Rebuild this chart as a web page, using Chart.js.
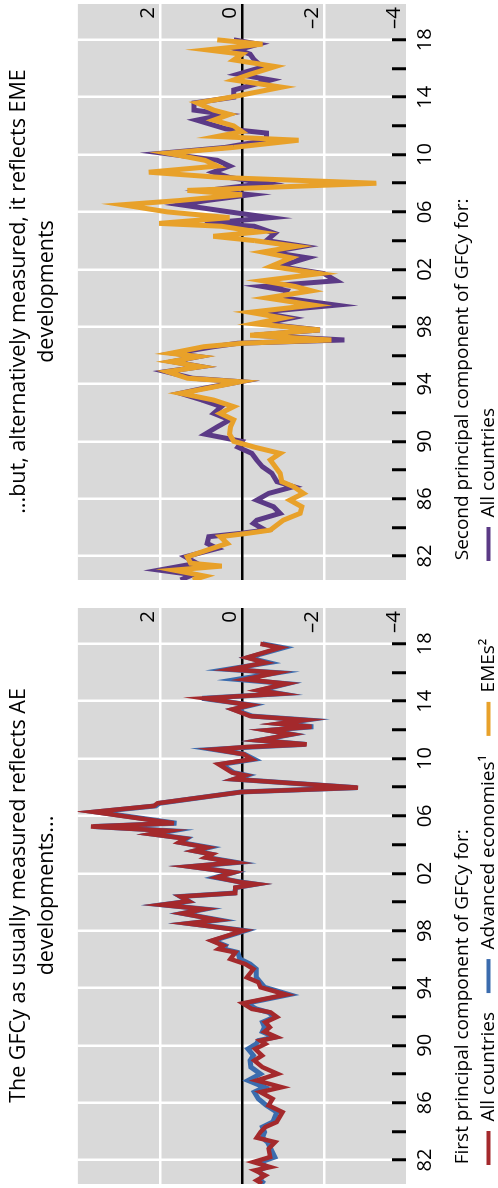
<!DOCTYPE html>
<html>
<head>
<meta charset="utf-8">
<script src="https://cdn.jsdelivr.net/npm/chart.js@4"></script>
<style>
html, body { margin: 0; padding: 0; background: #fff; overflow: hidden; width: 498px; height: 1188px; }
#wrap { position: absolute; left: 0; top: 1188px; width: 1188px; height: 498px; transform-origin: 0 0; transform: rotate(-90deg); overflow: hidden; background: #fff; }
#wrap canvas { position: absolute; top: 0; }
</style>
</head>
<body>
<div id="wrap">
  <canvas id="c1" width="604" height="498" style="left:-10px"></canvas>
  <canvas id="c2" width="604" height="498" style="left:594px"></canvas>
</div>
<script>
// first principal component, all countries and AEs (same dates)
var p1Years = [1980.35, 1980.58, 1980.93, 1981.28, 1981.51, 1981.86, 1982.21, 1982.79, 1983.25, 1983.56,
  1983.95, 1984.30, 1984.65, 1985.34, 1985.81, 1986.27, 1986.74, 1987.08, 1987.55, 1988.01,
  1988.48, 1988.94, 1989.29, 1989.75, 1990.10, 1990.33, 1990.57, 1990.95, 1991.26, 1991.61,
  1991.98, 1992.30, 1992.54, 1992.93, 1993.54, 1994.05, 1994.40, 1994.74, 1995.32, 1995.67,
  1996.02, 1996.48, 1996.72, 1996.95, 1997.30, 1998.00, 1998.50, 1998.74, 1999.20, 1999.50,
  1999.80, 2000.05, 2000.38, 2000.62, 2001.00, 2001.24, 2001.40, 2001.71, 2002.06, 2002.47,
  2002.75, 2003.10, 2003.33, 2003.56, 2003.80, 2004.15, 2004.42, 2004.73, 2004.96, 2005.26,
  2005.49, 2006.28, 2006.70, 2006.88, 2007.67, 2007.97, 2008.56, 2008.83, 2009.02, 2009.60,
  2009.95, 2010.30, 2010.64, 2010.80, 2010.99, 2011.27, 2011.69, 2011.97, 2012.22, 2012.43,
  2012.69, 2012.96, 2013.43, 2013.73, 2014.20, 2014.52, 2014.76, 2015.22, 2015.52, 2015.99,
  2016.22, 2016.69, 2017.04, 2017.73, 2018.00];
var p1All = [-0.49, -0.36, -0.57, -0.32, -0.69, -0.28, -0.69, -0.65, -0.81, -0.36,
  -0.45, -0.57, -0.85, -0.99, -0.65, -0.75, -0.45, -0.97, -0.36, -0.87,
  -0.50, -0.30, -0.49, -0.32, -0.57, -0.45, -0.85, -0.55, -0.68, -0.57,
  -0.85, -0.70, -0.24, -0.02, -1.08, -0.45, -0.40, -0.12, -0.28, -0.08,
  0.28, 0.16, 0.57, 0.45, 0.74, -0.04, 1.33, 0.60, 1.46, 0.93,
  1.96, 1.30, 1.50, 0.16, 0.16, -0.36, 0.08, 0.61, 0.20, 1.29,
  0.16, 0.89, 0.73, 1.17, 0.85, 1.54, 1.38, 2.22, 1.78, 3.68,
  1.66, 3.62, 2.14, 2.06, 0.00, -2.83, 0.20, -0.08, 0.24, 0.57,
  -0.24, -0.04, 0.65, -0.08, -1.58, -0.40, -1.21, -0.61, -1.70, -0.89,
  -1.54, -0.20, 0.23, -0.20, 0.91, -0.93, -0.40, -1.09, -0.08, -0.85,
  0.28, -0.57, -0.12, -0.93, -0.45];
var p1AE = [-0.55, -0.45, -0.50, -0.40, -0.60, -0.45, -0.80, -0.70, -0.62, -0.50,
  -0.55, -0.50, -0.75, -0.85, -0.60, -0.40, -0.30, -0.55, -0.15, -0.45,
  -0.22, -0.20, -0.28, -0.15, -0.35, -0.40, -0.80, -0.50, -0.55, -0.50,
  -0.80, -0.65, -0.35, -0.10, -1.15, -0.55, -0.45, -0.35, -0.35, -0.20,
  0.05, 0.10, 0.45, 0.40, 0.70, -0.08, 1.30, 0.55, 1.45, 0.90,
  1.95, 1.30, 1.50, 0.18, 0.15, -0.35, 0.05, 0.65, 0.20, 1.25,
  0.12, 0.85, 0.75, 1.15, 0.80, 1.50, 1.35, 2.17, 1.70, 3.62,
  1.60, 3.55, 2.10, 2.02, 0.02, -2.80, 0.18, -0.12, 0.20, 0.50,
  -0.30, -0.06, 0.70, -0.22, -1.55, -0.42, -1.22, -0.65, -1.74, -0.95,
  -1.58, -0.25, 0.20, -0.24, 0.97, -0.95, -0.45, -1.10, 0.12, -0.88,
  0.36, -0.65, -0.15, -1.01, -0.50];

// second principal component, all countries
var p2AllYears = [1980.33, 1980.70, 1981.02, 1981.50, 1981.95, 1982.53, 1982.88, 1983.35, 1983.58, 1983.81,
  1984.28, 1984.50, 1984.98, 1985.44, 1985.90, 1986.37, 1986.84, 1987.19, 1987.77, 1988.23,
  1988.70, 1989.16, 1989.60, 1990.00, 1990.50, 1991.00, 1991.50, 1991.95, 1992.42, 1992.88,
  1993.35, 1993.70, 1994.16, 1994.40, 1994.86, 1995.21, 1995.56, 1995.91, 1996.14, 1996.60,
  1996.84, 1997.07, 1997.40, 1997.77, 1998.20, 1998.60, 1999.00, 1999.50, 2000.00, 2000.50,
  2000.80, 2001.20, 2001.70, 2002.20, 2002.80, 2003.20, 2003.60, 2004.00, 2004.50, 2005.00,
  2005.20, 2005.60, 2006.00, 2006.50, 2006.80, 2007.20, 2007.50, 2008.00, 2008.40, 2008.77,
  2009.20, 2009.60, 2010.10, 2010.50, 2011.00, 2011.50, 2011.80, 2012.40, 2012.80, 2013.10,
  2013.60, 2014.00, 2014.50, 2015.20, 2015.60, 2016.10, 2016.60, 2017.00, 2017.30, 2017.70, 2018.00];
var p2All = [1.50, 1.20, 2.02, 1.10, 1.38, 0.60, 0.85, 0.81, 0.04, -0.57,
  -0.28, -0.36, -0.93, -0.77, -0.36, -0.65, -1.26, -0.85, -0.73, -0.50,
  -0.36, -0.24, 0.10, 0.00, 0.90, 0.61, 0.30, 0.69, 0.50, 0.97,
  1.50, 0.93, 0.04, 1.20, 1.86, 1.00, 1.70, 1.05, 1.65, 0.69,
  0.10, -2.50, -0.30, -1.90, -0.50, -1.20, -0.40, -2.30, -1.00, -1.10,
  -0.50, -2.30, -2.00, -0.90, -1.60, -0.70, -1.50, -0.60, -0.80, -0.30,
  0.90, -0.70, 0.30, 1.50, 0.85, -0.20, 0.85, -0.60, 0.30, 0.70,
  0.30, 0.60, 1.94, 0.40, -0.60, -0.60, 0.40, 1.10, 0.40, 1.17,
  1.17, 0.20, 0.20, -0.70, 0.10, -0.50, -0.30, -0.20, 0.10, -0.40, 0.20];

// second principal component, EMEs
var p2EmeYears = [1980.33, 1980.60, 1981.02, 1981.30, 1981.50, 1981.95, 1982.53, 1982.88, 1983.35, 1983.58,
  1983.81, 1984.50, 1984.98, 1985.44, 1985.90, 1986.37, 1986.84, 1987.19, 1987.77, 1988.23,
  1988.70, 1989.16, 1989.60, 1990.00, 1990.50, 1991.00, 1991.50, 1991.95, 1992.42, 1992.88,
  1993.35, 1993.70, 1994.16, 1994.40, 1994.86, 1995.21, 1995.56, 1995.91, 1996.14, 1996.60,
  1996.84, 1997.07, 1997.40, 1997.77, 1998.20, 1998.60, 1999.00, 1999.50, 2000.00, 2000.50,
  2000.80, 2001.20, 2001.70, 2002.20, 2002.80, 2003.20, 2003.60, 2004.00, 2004.30, 2004.60,
  2005.00, 2005.20, 2005.60, 2006.00, 2006.50, 2006.80, 2007.20, 2007.50, 2008.00, 2008.40,
  2008.77, 2009.20, 2009.60, 2010.10, 2010.50, 2011.00, 2011.26, 2011.60, 2012.00, 2012.40,
  2012.80, 2013.10, 2013.60, 2014.00, 2014.70, 2015.20, 2015.60, 2016.14, 2016.60, 2017.00,
  2017.30, 2017.70, 2018.00];
var p2Eme = [1.20, 0.90, 1.66, 0.49, 1.25, 1.33, 0.73, 0.36, 0.53, -0.12,
  -0.69, -1.01, -1.42, -1.46, -1.17, -1.50, -1.26, -0.97, -0.93, -0.81,
  -0.69, -0.93, -0.30, 0.20, 0.30, 0.28, 0.20, 0.53, 0.20, 0.69,
  1.50, 0.85, 0.04, 1.33, 1.82, 1.00, 1.74, 1.05, 1.74, 0.93,
  0.00, -2.18, -0.20, -1.90, -0.30, -1.00, -0.20, -1.74, -0.60, -1.70,
  -1.30, -0.50, -1.90, -0.70, -1.20, -0.50, -1.33, -0.30, 0.70, -0.40,
  0.50, 2.02, 0.30, 1.82, 2.91, 1.50, 0.00, 1.33, -3.28, 0.50,
  2.27, 0.60, 0.90, 1.82, 0.20, -1.38, 0.61, 0.00, 0.20, 0.69,
  0.30, 0.69, 1.09, 0.28, -0.97, 0.20, -0.20, -0.81, 0.20, 0.00,
  0.85, -0.50, 0.60];

var yTickValues = [4, 2, 0, -2, -4];
var labelYears = [1982, 1986, 1990, 1994, 1998, 2002, 2006, 2010, 2014, 2018];

var RED = '#a4292c', BLUE = '#3b6cae', ORANGE = '#e8a12a', PURPLE = '#5b3a86';

Chart.defaults.font.family = "'Open Sans', 'Noto Sans', sans-serif";
Chart.defaults.color = '#000';

function pts(xs, ys) {
  return xs.map(function (x, i) { return { x: x, y: ys[i] }; });
}

var plotBg = {
  id: 'plotBg',
  beforeDraw: function (chart) {
    var a = chart.chartArea, ctx = chart.ctx;
    ctx.save();
    ctx.fillStyle = '#d9d9d9';
    ctx.fillRect(a.left, a.top, a.right - a.left, a.bottom - a.top);
    ctx.restore();
  }
};

function line(label, data, color, width) {
  return { label: label, data: data, borderColor: color, backgroundColor: color, borderWidth: width, pointRadius: 0, tension: 0 };
}

function panel(id, title, datasets, legendTitle, hide) {
  return new Chart(document.getElementById(id), {
    type: 'line',
    data: { datasets: datasets },
    options: {
      responsive: false,
      animation: false,
      devicePixelRatio: 1,
      layout: { padding: { left: 14, right: 13, top: 0, bottom: -10 } },
      scales: {
        x: {
          type: 'linear', min: 1980.33, max: 2020.5,
          border: { display: false },
          afterFit: function (s) { s.height = 38; },
          grid: {
            color: function (c) { return labelYears.indexOf(c.tick.value) >= 0 ? '#fff' : 'rgba(0,0,0,0)'; },
            lineWidth: 2.5,
            tickColor: function (c) { return c.tick.value <= 2018 ? '#000' : 'rgba(0,0,0,0)'; },
            tickWidth: 3,
            tickLength: -14
          },
          ticks: {
            stepSize: 2, includeBounds: false, autoSkip: false, maxRotation: 0, padding: 21,
            font: { size: 20 },
            callback: function (v) { return labelYears.indexOf(v) >= 0 ? String(v % 100).padStart(2, '0') : ''; }
          }
        },
        y: {
          position: 'right', min: -4, max: 4,
          border: { display: false },
          afterFit: function (s) { s.width = 0; },
          afterBuildTicks: function (s) { s.ticks = yTickValues.slice().reverse().map(function (v) { return { value: v }; }); },
          grid: {
            color: function (c) { return c.tick.value === 0 ? '#000' : (Math.abs(c.tick.value) === 4 ? 'rgba(0,0,0,0)' : '#fff'); },
            lineWidth: 2.5,
            drawTicks: false
          },
          ticks: {
            mirror: true, padding: -3, labelOffset: -12,
            font: { size: 20.5 },
            callback: function (v) { return v === 4 ? '' : (v < 0 ? '\u2013' + (-v) : String(v)); }
          }
        }
      },
      plugins: {
        title: {
          display: true, text: title,
          font: { size: 21.5, weight: 'normal', lineHeight: 1.29 },
          color: '#000',
          padding: { top: 4.9, bottom: 17.5 }
        },
        legend: {
          position: 'bottom', align: 'start',
          title: {
            display: true, text: legendTitle, position: 'start',
            font: { size: 19, lineHeight: 1.2 },
            padding: { top: 9, bottom: -15.8 }
          },
          labels: {
            boxWidth: 34, boxHeight: 4, padding: 19,
            font: { size: 19 },
            generateLabels: function (chart) {
              var items = Chart.defaults.plugins.legend.labels.generateLabels(chart);
              items.forEach(function (it) { it.lineWidth = 0; it.fillStyle = it.strokeStyle; });
              return items.filter(function (it) { return hide.indexOf(it.datasetIndex) < 0; });
            }
          }
        },
        tooltip: { enabled: false }
      }
    },
    plugins: [plotBg]
  });
}

panel('c1', ['The GFCy as usually measured reflects AE', 'developments...'], [
  line('All countries', pts(p1Years, p1All), RED, 4.5),
  line('Advanced economies\u00b9', pts(p1Years, p1AE), BLUE, 5),
  line('EMEs\u00b2', [], ORANGE, 5)
], '    First principal component of GFCy for:', []);

panel('c2', ['...but, alternatively measured, it reflects EME', 'developments'], [
  line('EMEs\u00b2', pts(p2EmeYears, p2Eme), ORANGE, 5),
  line('All countries', pts(p2AllYears, p2All), PURPLE, 5)
], '    Second principal component of GFCy for:', [0]);
</script>
</body>
</html>
